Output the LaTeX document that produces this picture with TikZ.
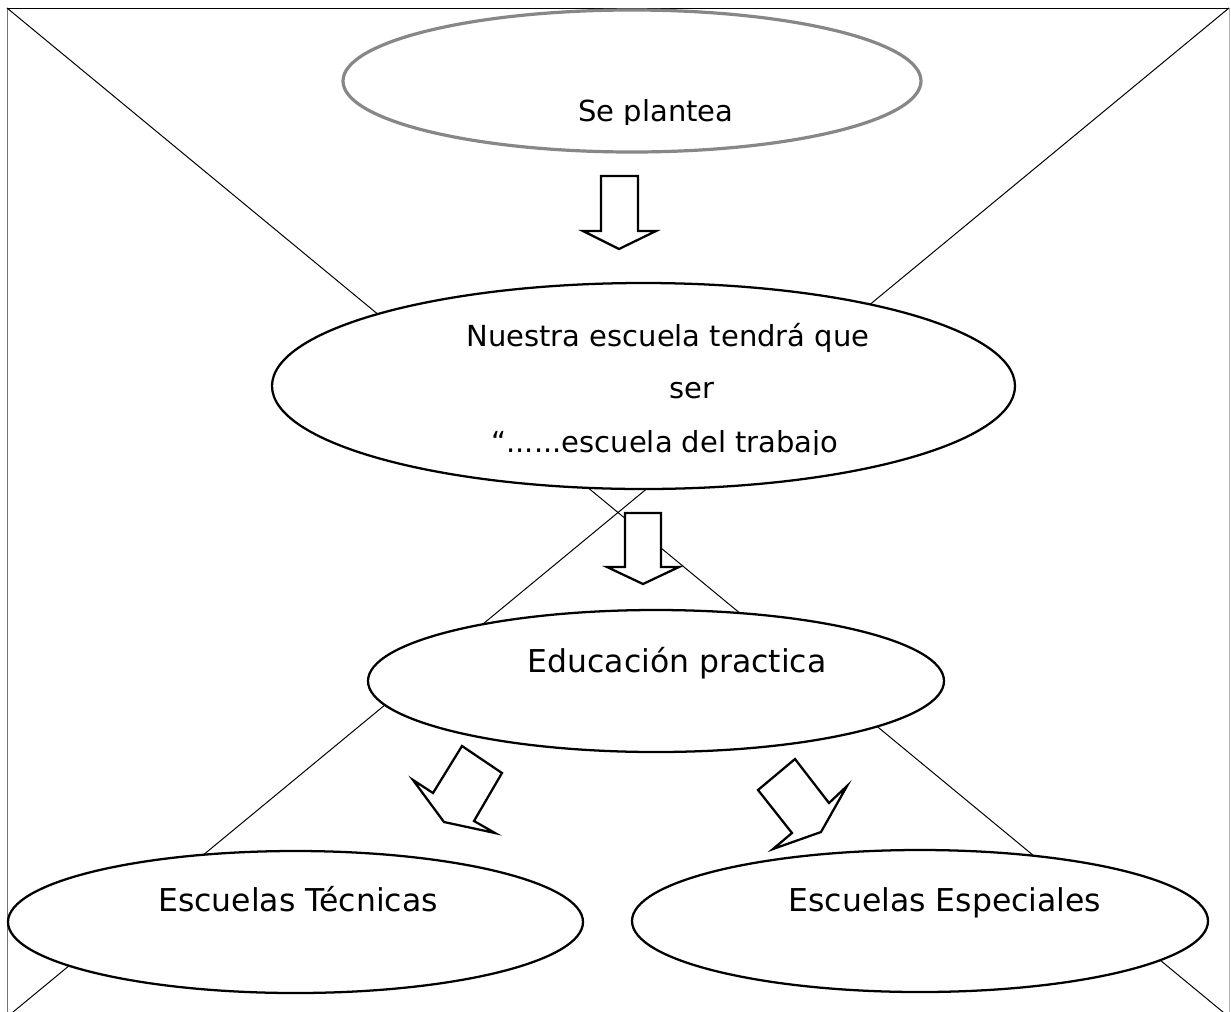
\documentclass[tikz,border=0pt]{standalone}
\usepackage{fontspec}
\setmainfont{DejaVu Sans}
\usetikzlibrary{shapes.geometric}

\tikzset{every picture/.style={line width=0.75pt}}
\tikzset{
  bubble/.style={draw, ellipse, fill=white, line width=1.7pt, inner sep=0pt},
  blockarrow/.style={draw, fill=white, line width=1.7pt, line join=miter},
  smalltxt/.style={inner sep=0pt, anchor=base, font=\fontsize{21.75}{26}\selectfont},
  bigtxt/.style={inner sep=0pt, anchor=base, font=\fontsize{23.6}{28}\selectfont},
}

\begin{document}
\begin{tikzpicture}[x=0.75pt,y=0.75pt,yscale=-1,xscale=1]

\useasboundingbox (0,0) rectangle (1231,1011);

% frame and crossing lines
\coordinate (tl) at (7,8);
\coordinate (tr) at (1229,8);
\coordinate (bl) at (7,1017);
\coordinate (br) at (1229,1017);
\draw  (tl) -- (tr) ;
\draw  [draw=black!55]  (tl) -- (bl) ;
\draw  [draw=black!30]  (tr) -- (br) ;
\draw  (tl) -- (br) ;
\draw  (tr) -- (bl) ;

% ellipses
\node [bubble, draw=black!47, line width=2.4pt, minimum width=433.5pt, minimum height=106.5pt] (plantea) at (632,81) {};
\node [bubble, minimum width=557.25pt, minimum height=154.5pt] (escuela) at (643.5,386) {};
\node [bubble, minimum width=432pt, minimum height=106.5pt] (practica) at (656,681) {};
\node [bubble, minimum width=431.25pt, minimum height=106.5pt] (tecnicas) at (295.5,922) {};
\node [bubble, minimum width=432pt, minimum height=106.5pt] (especiales) at (920,921) {};

% block arrows
\draw  [blockarrow]  (601,176) -- (638,176) -- (638,231) -- (656,231) -- (619,249) -- (583,231) -- (601,231) -- cycle ;
\draw  [blockarrow]  (625,513) -- (661,513) -- (661,567) -- (679,567) -- (643,584) -- (607,567) -- (625,567) -- cycle ;
\draw  [blockarrow]  (462,746) -- (502,773) -- (474,821) -- (495,833) -- (444,822) -- (413,780) -- (433,793) -- cycle ;
\draw  [blockarrow]  (795,759) -- (829,803) -- (847,786) -- (821,832) -- (773,849) -- (792,833) -- (758,790) -- cycle ;

% texts
\begin{scope}
\clip (0,0) rectangle (1231,124);
\node [smalltxt] (plantea-t) at (656,121) {Se plantea};
\end{scope}
\node [smalltxt] (escuela-a) at (668,346) {Nuestra escuela tendrá que};
\node [smalltxt] (escuela-b) at (692,398) {ser};
\begin{scope}
\clip (0,0) rectangle (1231,454);
\node [smalltxt] (escuela-c) at (665,452) {“......escuela del trabajo};
\end{scope}
\node [bigtxt] (practica-t) at (677,672) {Educación practica};
\node [bigtxt] (tecnicas-t) at (298,911) {Escuelas Técnicas};
\node [bigtxt] (especiales-t) at (945,911) {Escuelas Especiales};

\end{tikzpicture}
\end{document}
